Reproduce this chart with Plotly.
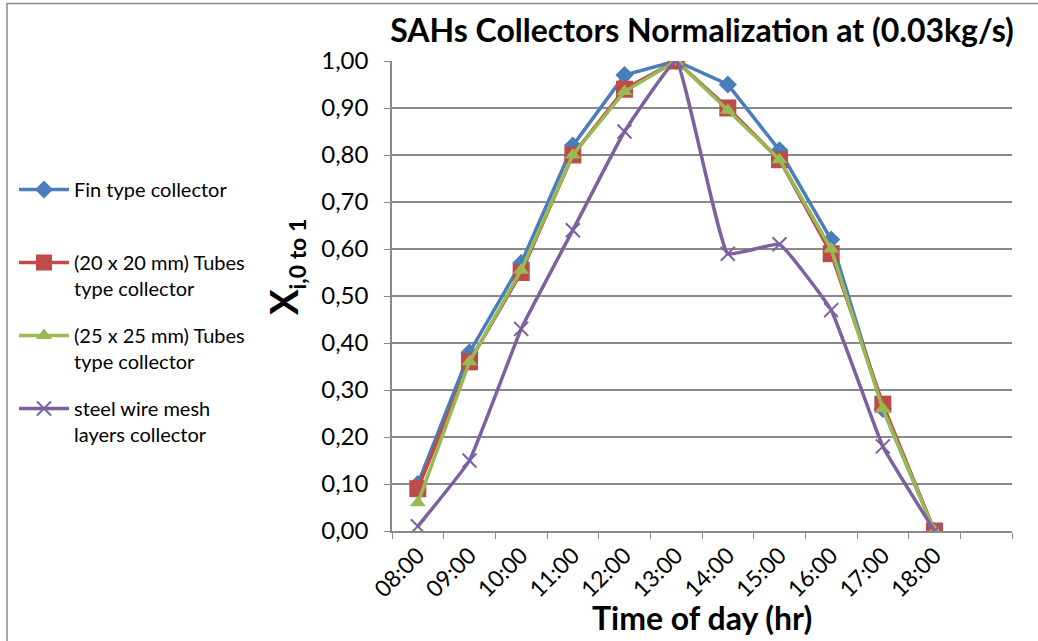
import plotly.graph_objects as go

times = ["08:00", "09:00", "10:00", "11:00", "12:00", "13:00",
         "14:00", "15:00", "16:00", "17:00", "18:00"]
fin = [0.10, 0.38, 0.57, 0.82, 0.97, 1.00, 0.95, 0.81, 0.62, 0.26, 0.00]
tube20 = [0.09, 0.36, 0.55, 0.80, 0.94, 1.00, 0.90, 0.79, 0.59, 0.27, 0.00]
tube25 = [0.06, 0.36, 0.555, 0.80, 0.935, 1.00, 0.895, 0.79, 0.60, 0.26, 0.00]
mesh = [0.01, 0.15, 0.43, 0.64, 0.85, 1.00, 0.59, 0.61, 0.47, 0.18, 0.00]

names = ["Fin type collector<br> ",
         "(20 x 20 mm) Tubes<br>type collector",
         "(25 x 25 mm) Tubes<br>type collector",
         "steel wire mesh<br>layers collector"]
colors = ["#4A7EBB", "#BE4B48", "#98B954", "#7D60A0"]

FONT = "Lato"
W, H = 1038, 641
L, R, T, B = 392, 26, 61, 110
pw, ph = W - L - R, H - T - B

def px_x(p):
    return (p - L) / pw

def px_y(p):
    return (H - B - p) / ph

fig = go.Figure()
fig.add_trace(go.Scatter(x=times, y=fin, name=names[0], mode="lines+markers",
                         line=dict(color=colors[0], width=3.5),
                         marker=dict(symbol="diamond", size=14, color=colors[0]),
                         legendgroup="a"))
fig.add_trace(go.Scatter(x=times, y=tube20, name=names[1], mode="lines+markers",
                         line=dict(color=colors[1], width=3.5),
                         marker=dict(symbol="square", size=17, color=colors[1]),
                         legendgroup="b"))
fig.add_trace(go.Scatter(x=times, y=tube25, name=names[2], mode="lines+markers",
                         line=dict(color=colors[2], width=3.5),
                         marker=dict(symbol="triangle-up", size=14, color=colors[2]),
                         legendgroup="c"))
fig.add_trace(go.Scatter(x=times, y=mesh, name=names[3], mode="lines+markers",
                         line=dict(color=colors[3], width=3.5, shape="spline", smoothing=0.3),
                         marker=dict(symbol="x-thin-open", size=14,
                                     line=dict(color=colors[3], width=2)),
                         legendgroup="d"))

grid = "#898989"
fig.update_layout(
    width=W, height=H,
    margin=dict(l=L, r=R, t=T, b=B),
    paper_bgcolor="white", plot_bgcolor="white",
    separators=",.",
    font=dict(family=FONT, color="black"),
    title=dict(text="<b>SAHs Collectors Normalization at (0.03kg/s)</b>",
               font=dict(family=FONT, size=32, color="black"),
               x=0.5, xref="paper", xanchor="center",
               y=1 - 31 / H, yref="container", yanchor="middle"),
    xaxis=dict(type="category", categoryorder="array",
               categoryarray=times + [" "],
               range=[-0.5, 11.5], tickson="boundaries",
               ticks="outside", ticklen=6, tickcolor=grid,
               showline=True, linecolor=grid, linewidth=1.5,
               showgrid=False, tickangle=-45,
               tickfont=dict(family=FONT, size=23, color="black")),
    yaxis=dict(range=[0, 1], dtick=0.1, tickformat=".2f",
               ticks="outside", ticklen=6, tickcolor=grid,
               showline=True, linecolor=grid, linewidth=1.5,
               showgrid=True, gridcolor=grid, gridwidth=1.5,
               zeroline=False, ticklabelstandoff=11,
               tickfont=dict(family=FONT, size=24, color="black")),
    legend=dict(x=px_x(14), xanchor="left", y=px_y(170), yanchor="top",
                font=dict(family=FONT, size=20, color="black"),
                valign="top", tracegroupgap=18, bgcolor="rgba(0,0,0,0)",
                itemwidth=50),
    showlegend=True,
    annotations=[
        dict(text="<b>Time of day (hr)</b>", xref="paper", yref="paper",
             x=0.5, y=px_y(617), xanchor="center", yanchor="middle",
             showarrow=False,
             font=dict(family=FONT, size=32, color="black")),
        dict(text="<b>X<sub><span style='font-size:23px'>i,0 to 1</span></sub></b>",
             xref="paper", yref="paper", x=px_x(285), y=px_y(267),
             xanchor="center", yanchor="middle", textangle=-90, showarrow=False,
             font=dict(family=FONT, size=38, color="black")),
    ],
    shapes=[dict(type="rect", xref="paper", yref="paper",
                 x0=px_x(7), x1=px_x(1050), y0=px_y(660), y1=px_y(3.5),
                 line=dict(color="#8A8A8A", width=1.5), fillcolor="rgba(0,0,0,0)",
                 layer="below")],
)

fig.write_html("out.html")
